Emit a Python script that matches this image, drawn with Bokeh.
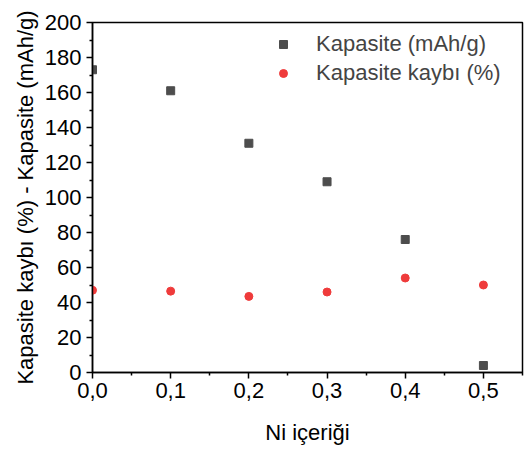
from bokeh.plotting import figure
from bokeh.models import Range1d, Legend, LegendItem, CustomJSTickFormatter, FixedTicker, ColumnDataSource
from bokeh.embed import file_html
from bokeh.resources import INLINE

ni = [0.0, 0.1, 0.2, 0.3, 0.4, 0.5]
kapasite = [173, 161, 131, 109, 76, 4]
kayip = [47, 46.5, 43.5, 46, 54, 50]
x_ticks = [0.0, 0.1, 0.2, 0.3, 0.4, 0.5]
x_minor = [0.05, 0.15, 0.25, 0.35, 0.45, 0.55]
y_ticks = list(range(0, 201, 20))
y_minor = list(range(10, 200, 20))

FONT = "Liberation Sans"

p = figure(width=526, height=450, output_backend="svg", toolbar_location=None,
           x_range=Range1d(0, 0.55), y_range=Range1d(0, 200),
           min_border_left=92, min_border_right=4, min_border_top=22, min_border_bottom=78)
p.grid.visible = False
p.outline_line_color = "black"
p.outline_line_width = 1.5
p.background_fill_color = "white"
p.border_fill_color = "white"

src = ColumnDataSource(dict(x=ni, k=kapasite, l=kayip))
r1 = p.scatter("x", "k", source=src, marker="square", size=8, fill_color="#4d4d4d", line_color="#4d4d4d")
r2 = p.scatter("x", "l", source=src, marker="circle", size=8, fill_color="#ef3b3b", line_color="#ef3b3b")

for ax in (p.xaxis[0], p.yaxis[0]):
    ax.axis_line_width = 1.5
    ax.major_tick_line_width = 1.5
    ax.minor_tick_line_width = 1.5
    ax.major_tick_out = 6
    ax.major_tick_in = 0
    ax.minor_tick_out = 3
    ax.minor_tick_in = 0
    ax.major_label_text_font = FONT
    ax.major_label_text_font_size = "22px"
    ax.major_label_text_color = "black"
    ax.axis_label_text_font = FONT
    ax.axis_label_text_font_size = "22px"
    ax.axis_label_text_font_style = "normal"
    ax.axis_label_text_color = "black"

p.xaxis[0].ticker = FixedTicker(ticks=x_ticks, minor_ticks=x_minor)
p.yaxis[0].ticker = FixedTicker(ticks=y_ticks, minor_ticks=y_minor)
p.xaxis[0].formatter = CustomJSTickFormatter(code="return tick.toFixed(1).replace('.', ',');")
p.xaxis[0].axis_label = "Ni içeriği"
p.yaxis[0].axis_label = "Kapasite kaybı (%) - Kapasite (mAh/g)"
p.xaxis[0].major_label_standoff = 4
p.xaxis[0].axis_label_standoff = 19
p.yaxis[0].major_label_standoff = 5
p.yaxis[0].axis_label_standoff = 4

legend = Legend(items=[LegendItem(label="Kapasite (mAh/g)", renderers=[r1]),
                       LegendItem(label="Kapasite kaybı (%)", renderers=[r2])],
                location=(181, 286))
legend.border_line_color = None
legend.background_fill_alpha = 0
legend.label_text_font = FONT
legend.label_text_font_size = "22px"
legend.label_standoff = 23
legend.glyph_width = 20
legend.padding = 0
legend.spacing = 3
legend.margin = 0
p.add_layout(legend, "center")

open("out.html", "w").write(file_html(p, INLINE))
